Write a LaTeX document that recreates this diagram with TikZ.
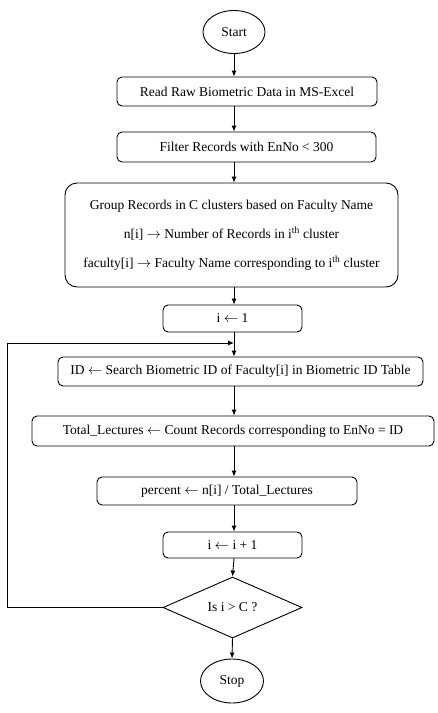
\documentclass[tikz,border=0pt]{standalone}
\usepackage{fontspec}
\setmainfont{Liberation Serif}
\usepackage{tikz}
\usetikzlibrary{arrows.meta, positioning, shapes.geometric}

\begin{document}
\begin{tikzpicture}[
  x=1pt, y=-1pt,
  every node/.style={font=\fontsize{13.5}{16}\selectfont},
  terminal/.style={draw, ellipse, line width=0.9pt, inner sep=0pt, minimum width=62pt, minimum height=43pt},
  process/.style={draw, rounded corners=5pt, line width=0.9pt, inner sep=0pt, minimum height=29pt, align=center},
  decision/.style={draw, diamond, aspect=2.3, line width=0.9pt, inner sep=0pt, minimum width=139pt, minimum height=61pt},
  flow/.style={draw, line width=0.9pt, -{Latex[length=6pt, width=5pt]}}
]
\useasboundingbox (0,0) rectangle (437,713);

\node[terminal] (start) at (234,32) {Start};
\node[process, minimum width=260pt] (read) at (247,91.5) {Read Raw Biometric Data in MS-Excel};
\node[process, minimum width=259pt, minimum height=30pt] (filter) at (246.5,147) {Filter Records with EnNo < 300};
\node[process, rounded corners=12pt, minimum width=333pt, minimum height=104pt] (group) at (231.5,235)
  {Group Records in C clusters based on Faculty Name\\[13pt]
   n[i] $\rightarrow$ Number of Records in i\textsuperscript{th} cluster\\[13pt]
   faculty[i] $\rightarrow$ Faculty Name corresponding to i\textsuperscript{th} cluster};
\node[process, minimum width=139pt, minimum height=27pt] (init) at (232.5,318.5) {i $\leftarrow$ 1};
\node[process, minimum width=365pt] (search) at (240.5,371.5) {ID $\leftarrow$ Search Biometric ID of Faculty[i] in Biometric ID Table};
\node[process, minimum width=402pt, minimum height=30pt] (count) at (233,431) {Total\_Lectures $\leftarrow$ Count Records corresponding to EnNo = ID};
\node[process, minimum width=260pt, minimum height=28pt] (percent) at (227,491) {percent $\leftarrow$ n[i] / Total\_Lectures};
\node[process, minimum width=139pt, minimum height=26pt] (incr) at (232.5,545) {i $\leftarrow$ i + 1};
\node[decision] (check) at (232.5,607.5) {Is i > C ?};
\node[terminal, minimum width=63pt, minimum height=44pt] (stop) at (232,681) {Stop};
\coordinate (back) at (7,343);

\draw[flow] (start.south) -- (start.south |- read.north);
\draw[flow] (start.south |- read.south) -- (start.south |- filter.north);
\draw[flow] (start.south |- filter.south) -- (start.south |- group.north);
\draw[flow] (start.south |- group.south) -- (start.south |- init.north);
\draw[flow] (start.south |- init.south) -- (start.south |- search.north);
\draw[flow] (start.south |- search.south) -- (start.south |- count.north);
\draw[flow] (start.south |- count.south) -- (start.south |- percent.north);
\draw[flow] (start.south |- percent.south) -- (start.south |- incr.north);
\draw[flow] (start.south |- incr.south) -- (check.north);
\draw[flow] (check.south) -- (stop.north);
\draw[flow] (check.west) -| (back) -- (back -| start.south);
\end{tikzpicture}
\end{document}
